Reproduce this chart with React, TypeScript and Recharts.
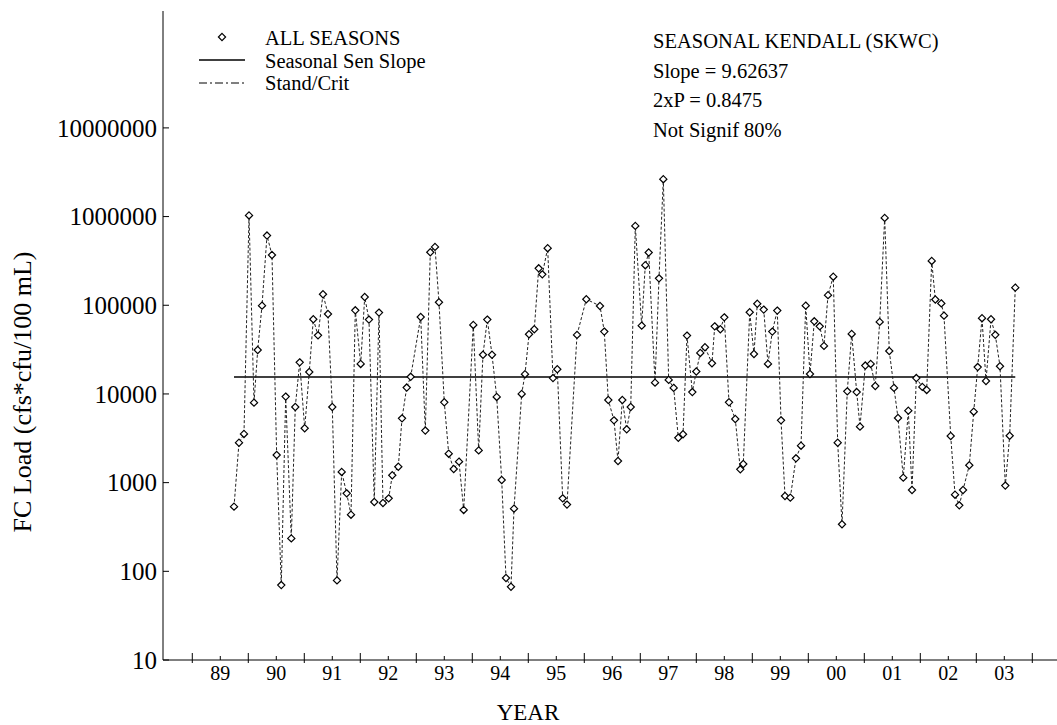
import React from 'react';
import { ComposedChart, Line, XAxis, YAxis } from 'recharts';

// sample dates (decimal years) and FC loads
const sampleYears = [
  1989.745, 1989.834, 1989.923, 1990.013, 1990.102, 1990.168, 1990.245, 1990.334, 1990.423, 1990.507,
  1990.589, 1990.668, 1990.768, 1990.839, 1990.918, 1991.007, 1991.089, 1991.161, 1991.245, 1991.334,
  1991.423, 1991.500, 1991.584, 1991.668, 1991.757, 1991.834, 1991.911, 1992.007, 1992.079, 1992.155,
  1992.250, 1992.334, 1992.405, 1992.507, 1992.571, 1992.679, 1992.745, 1992.829, 1992.900, 1993.079,
  1993.161, 1993.250, 1993.334, 1993.405, 1993.500, 1993.579, 1993.668, 1993.763, 1993.846, 1994.018,
  1994.114, 1994.191, 1994.268, 1994.352, 1994.436, 1994.525, 1994.602, 1994.691, 1994.745, 1994.882,
  1994.941, 1995.013, 1995.107, 1995.186, 1995.250, 1995.346, 1995.441, 1995.518, 1995.614, 1995.691,
  1995.870, 1996.036, 1996.280, 1996.357, 1996.429, 1996.530, 1996.602, 1996.679, 1996.757, 1996.829,
  1996.911, 1997.025, 1997.089, 1997.150, 1997.263, 1997.334, 1997.411, 1997.507, 1997.596, 1997.679,
  1997.763, 1997.834, 1997.929, 1998.000, 1998.071, 1998.155, 1998.280, 1998.329, 1998.429, 1998.500,
  1998.584, 1998.696, 1998.786, 1998.839, 1998.954, 1999.030, 1999.089, 1999.204, 1999.280, 1999.357,
  1999.446, 1999.513, 1999.584, 1999.679, 1999.780, 1999.870, 1999.954, 2000.030, 2000.107, 2000.204,
  2000.280, 2000.352, 2000.446, 2000.525, 2000.602, 2000.696, 2000.775, 2000.864, 2000.923, 2001.018,
  2001.114, 2001.196, 2001.275, 2001.364, 2001.446, 2001.530, 2001.602, 2001.696, 2001.786, 2001.852,
  2001.929, 2002.036, 2002.114, 2002.204, 2002.268, 2002.375, 2002.423, 2002.543, 2002.620, 2002.696,
  2002.763, 2002.875, 2002.954, 2003.025, 2003.102, 2003.173, 2003.263, 2003.339, 2003.423, 2003.518,
  2003.596, 2003.696,
];

const fcLoads = [
  536, 2820, 3540, 1030000, 7980, 31300, 99000, 611000, 369000, 2050,
  70, 9330, 235, 7130, 22700, 4100, 17700, 69500, 45800, 133000,
  79800, 7130, 79, 1320, 757, 435, 87700, 21800, 124000, 68900,
  605, 82600, 589, 665, 1210, 1510, 5310, 11800, 15600, 73800,
  3860, 396000, 455000, 108000, 8050, 2120, 1425, 1725, 492, 60000,
  2310, 27700, 68900, 27700, 9250, 1071, 84, 67, 509, 10000,
  16700, 47100, 53600, 261000, 223000, 440000, 15100, 19000, 665, 565,
  46300, 117000, 98200, 50500, 8550, 5040, 1754, 8550, 3990, 7130,
  785000, 58900, 283000, 393000, 13400, 201000, 2640000, 14400, 11700, 3210,
  3510, 45500, 10500, 17900, 29000, 33600, 22200, 57800, 53600, 73100,
  8050, 5220, 1413, 1622, 83400, 28200, 104000, 89300, 21800, 50500,
  87100, 5040, 706, 677, 1880, 2610, 99000, 16800, 65900, 57900,
  34800, 130000, 210000, 2820, 339, 10700, 47500, 10500, 4280, 20900,
  21800, 12300, 64900, 966000, 30500, 11700, 5360, 1138, 6480, 826,
  15100, 12000, 11100, 316000, 116000, 105000, 76400, 3360, 731, 555,
  826, 1570, 6310, 20100, 71500, 14000, 69500, 46400, 20500, 926,
  3380, 158000,
];

const senSlopeLevel = 15500;

const firstYear = 1989;
const yearLabels = ['89', '90', '91', '92', '93', '94', '95', '96', '97', '98', '99', '00', '01', '02', '03'];
const decades = [10, 100, 1000, 10000, 100000, 1000000, 10000000];
const decadeLabels = ['10', '100', '1000', '10000', '100000', '1000000', '10000000'];

const statLines = ['SEASONAL KENDALL (SKWC)', 'Slope = 9.62637', '2xP = 0.8475', 'Not Signif 80%'];

const FONT = "'Liberation Serif', 'Times New Roman', serif";
const txt = { fontFamily: FONT };

const chartData = sampleYears.map((t, i) => ({ t, load: fcLoads[i] }));
const senData = [
  { t: sampleYears[0], sen: senSlopeLevel },
  { t: sampleYears[sampleYears.length - 1], sen: senSlopeLevel },
];

const xTicks: number[] = [];
yearLabels.forEach((_, i) => {
  xTicks.push(firstYear + i, firstYear + i + 0.5);
});
xTicks.push(firstYear + yearLabels.length);

// minor log ticks, drawn on the right-hand axis only
const yMinorTicks: number[] = [];
decades.forEach((d, i) => {
  yMinorTicks.push(d);
  if (i < decades.length - 1) {
    for (let k = 2; k <= 9; k++) yMinorTicks.push(d * k);
  }
});

const X_DOMAIN: [number, number] = [1988.477, 2004.441];
const Y_DOMAIN: [number, number] = [10, 2.08e8];

const Diamond = (props: any) => {
  const { cx, cy } = props;
  if (cx == null || cy == null) return null;
  const r = 3.6;
  return (
    <polygon
      points={`${cx},${cy - r} ${cx + r},${cy} ${cx},${cy + r} ${cx - r},${cy}`}
      fill="#fff"
      stroke="#000"
      strokeWidth={1.2}
    />
  );
};

const isMajorYear = (v: number) => Math.abs(v - Math.round(v)) < 0.01;

const BottomTick = (props: any) => {
  const { x, y, payload } = props;
  const v = payload.value;
  if (isMajorYear(v)) {
    return <line x1={x} x2={x} y1={y - 7} y2={y + 3} stroke="#000" />;
  }
  const label = yearLabels[Math.floor(v) - firstYear];
  return (
    <g>
      <line x1={x} x2={x} y1={y - 4} y2={y} stroke="#000" />
      <text x={x} y={y + 20} textAnchor="middle" fontSize={20} style={txt} fill="#000">
        {label}
      </text>
    </g>
  );
};

const TopTick = (props: any) => {
  const { x, y, payload } = props;
  if (isMajorYear(payload.value)) {
    return <line x1={x} x2={x} y1={y - 3} y2={y + 7} stroke="#000" />;
  }
  return <line x1={x} x2={x} y1={y} y2={y + 4} stroke="#000" />;
};

const LeftTick = (props: any) => {
  const { x, y, payload } = props;
  const idx = decades.indexOf(payload.value);
  return (
    <g>
      <line x1={x} x2={x + 6} y1={y} y2={y} stroke="#000" />
      <text x={x - 6} y={y} dy="0.35em" textAnchor="end" fontSize={25} style={txt} fill="#000">
        {decadeLabels[idx]}
      </text>
    </g>
  );
};

const RightTick = (props: any) => {
  const { x, y, payload } = props;
  const major = decades.indexOf(payload.value) >= 0;
  return (
    <line
      x1={x - (major ? 10 : 5)}
      x2={x - 2}
      y1={y}
      y2={y}
      stroke="#000"
      strokeDasharray={major ? undefined : '1 1'}
    />
  );
};

const App: React.FC = () => {
  return (
    <div style={{ position: 'absolute', left: 0, top: 0, width: 1057, height: 725, background: '#fff', fontFamily: FONT }}>
      <ComposedChart width={1057} height={725} data={chartData} margin={{ top: 11, right: 0, bottom: 0, left: 0 }}>
        <XAxis
          dataKey="t"
          type="number"
          domain={X_DOMAIN}
          allowDataOverflow
          ticks={xTicks}
          interval={0}
          height={65}
          tickSize={0}
          tickMargin={0}
          tickLine={false}
          axisLine={{ stroke: '#000' }}
          tick={<BottomTick />}
        />
        <XAxis
          xAxisId="top"
          orientation="top"
          dataKey="t"
          type="number"
          domain={X_DOMAIN}
          allowDataOverflow
          ticks={xTicks}
          interval={0}
          height={0}
          tickSize={0}
          tickMargin={0}
          tickLine={false}
          axisLine={{ stroke: '#000' }}
          tick={<TopTick />}
        />
        <YAxis
          scale="log"
          domain={Y_DOMAIN}
          allowDataOverflow
          ticks={decades}
          interval={0}
          width={163}
          tickSize={0}
          tickMargin={0}
          tickLine={false}
          axisLine={{ stroke: '#000' }}
          tick={<LeftTick />}
        />
        <YAxis
          yAxisId="right"
          orientation="right"
          scale="log"
          domain={Y_DOMAIN}
          allowDataOverflow
          ticks={yMinorTicks}
          interval={0}
          width={0}
          tickSize={0}
          tickMargin={0}
          tickLine={false}
          axisLine={false}
          tick={<RightTick />}
        />
        <Line
          data={senData}
          dataKey="sen"
          stroke="#000"
          strokeWidth={1.5}
          dot={false}
          activeDot={false}
          isAnimationActive={false}
        />
        <Line
          dataKey="load"
          stroke="#222"
          strokeWidth={1}
          strokeDasharray="3 2"
          dot={<Diamond />}
          activeDot={false}
          isAnimationActive={false}
        />
      </ComposedChart>
      <svg width={1057} height={725} style={{ position: 'absolute', left: 0, top: 0, pointerEvents: 'none' }}>
        {/* legend */}
        <polygon points="222,33.4 225.6,37 222,40.6 218.4,37" fill="#fff" stroke="#000" strokeWidth={1.2} />
        <text x={265} y={45} fontSize={20.5} style={txt} fill="#000">ALL SEASONS</text>
        <line x1={199} x2={245} y1={60} y2={60} stroke="#000" strokeWidth={1.5} />
        <text x={265} y={67.5} fontSize={20.5} style={txt} fill="#000">Seasonal Sen Slope</text>
        <line x1={199} x2={245} y1={83} y2={83} stroke="#000" strokeDasharray="8 3 2 3" />
        <text x={265} y={90} fontSize={20.5} style={txt} fill="#000">Stand/Crit</text>
        {/* test statistics */}
        {statLines.map((s, i) => (
          <text key={s} x={653} y={48.3 + i * 29.5} fontSize={20.5} style={txt} fill="#000">
            {s}
          </text>
        ))}
        {/* axis titles */}
        <text x={528} y={720} textAnchor="middle" fontSize={23} style={txt} fill="#000">YEAR</text>
        <text
          x={22}
          y={392}
          textAnchor="middle"
          dy="0.35em"
          fontSize={26}
          style={txt}
          fill="#000"
          transform="rotate(-90 22 392)"
        >
          FC Load (cfs*cfu/100 mL)
        </text>
      </svg>
    </div>
  );
};

export default App;
